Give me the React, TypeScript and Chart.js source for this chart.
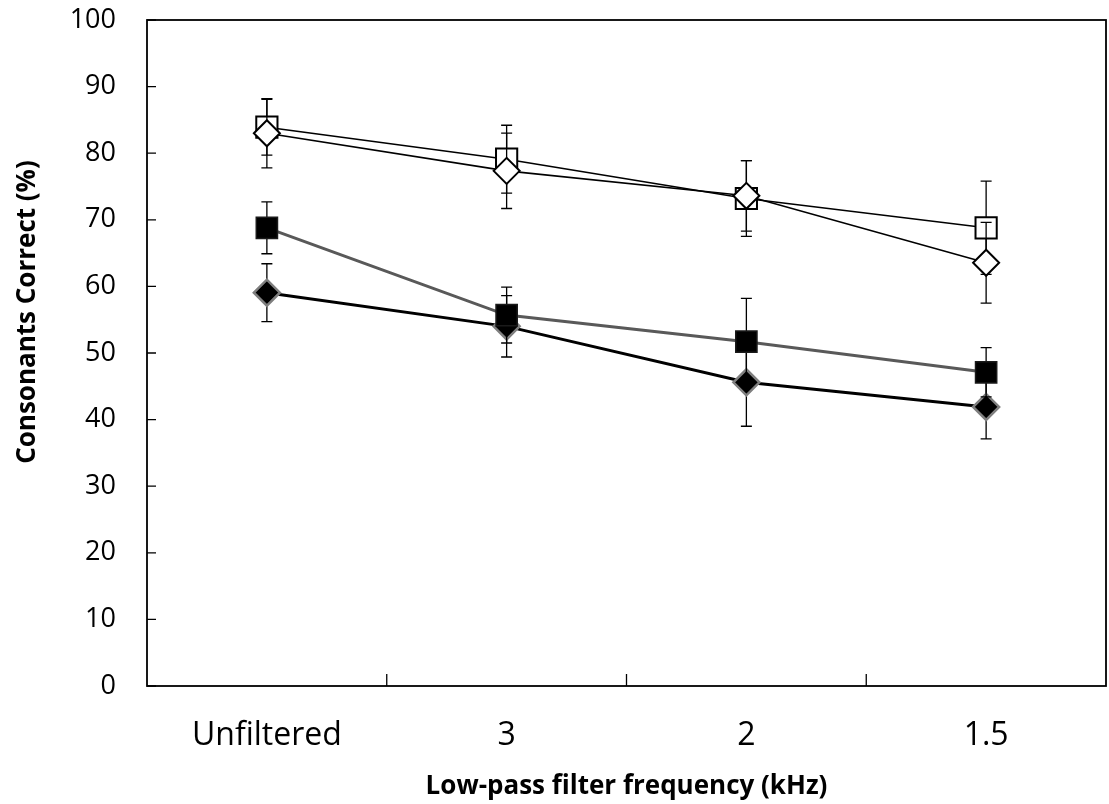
import React, { useEffect, useRef } from "react";
import { Chart, registerables } from "chart.js";

Chart.register(...registerables);

const categories = ["Unfiltered", "3", "2", "1.5"];

const openSquare = [83.9, 79.1, 73.2, 68.8];
const openSquareErr = [4.2, 5.1, 5.7, 7.0];
const openDiamond = [83.0, 77.35, 73.6, 63.55];
const openDiamondErr = [5.2, 5.65, 5.3, 6.05];
const filledSquare = [68.8, 55.7, 51.7, 47.1];
const filledSquareErr = [3.9, 4.2, 6.5, 3.7];
const filledDiamond = [59.05, 54.0, 45.6, 41.9];
const filledDiamondErr = [4.35, 4.6, 6.6, 4.8];

const yMin = 0;
const yMax = 100;
const yStep = 10;

const xTitle = "Low-pass filter frequency (kHz)";
const yTitle = "Consonants Correct (%)";

const FONT = "'Open Sans', 'Noto Sans', sans-serif";

const errorBarPlugin = {
  id: "errorBars",
  beforeDatasetDraw(chart: any, args: any) {
    const ds = chart.data.datasets[args.index];
    const errs: number[] | undefined = ds.errors;
    if (!errs) return;
    const { ctx, scales } = chart;
    const x = scales.x;
    const y = scales.y;
    ctx.save();
    ctx.strokeStyle = "#000";
    ctx.lineWidth = 1.3;
    const cap = 5.5;
    ds.data.forEach((v: number, i: number) => {
      const px = x.getPixelForValue(i);
      const top = y.getPixelForValue(v + errs[i]);
      const bot = y.getPixelForValue(v - errs[i]);
      ctx.beginPath();
      ctx.moveTo(px, top);
      ctx.lineTo(px, bot);
      ctx.moveTo(px - cap, top);
      ctx.lineTo(px + cap, top);
      ctx.moveTo(px - cap, bot);
      ctx.lineTo(px + cap, bot);
      ctx.stroke();
    });
    ctx.restore();
  },
};

const framePlugin = {
  id: "frame",
  beforeDatasetsDraw(chart: any) {
    const { ctx, chartArea, scales } = chart;
    const { left, right, top, bottom } = chartArea;
    ctx.save();
    ctx.strokeStyle = "#000";
    ctx.lineWidth = 1.8;
    ctx.strokeRect(left, top, right - left, bottom - top);
    ctx.lineWidth = 1.3;
    ctx.beginPath();
    scales.y.ticks.forEach((t: any) => {
      const py = scales.y.getPixelForValue(t.value);
      ctx.moveTo(left, py);
      ctx.lineTo(left + 9, py);
    });
    for (let i = 0; i < categories.length - 1; i++) {
      const px = (scales.x.getPixelForValue(i) + scales.x.getPixelForValue(i + 1)) / 2;
      ctx.moveTo(px, bottom);
      ctx.lineTo(px, bottom - 12);
    }
    ctx.stroke();
    ctx.restore();
  },
  afterDraw(chart: any) {
    const { ctx } = chart;
    ctx.save();
    ctx.translate(35, 312);
    ctx.rotate(-Math.PI / 2);
    ctx.fillStyle = "#000";
    ctx.font = `bold 26px ${FONT}`;
    ctx.textAlign = "center";
    ctx.textBaseline = "alphabetic";
    ctx.fillText(yTitle, 0, 0);
    ctx.restore();
  },
};

export default function App() {
  const ref = useRef<HTMLCanvasElement | null>(null);

  useEffect(() => {
    document.body.style.margin = "0";
    const canvas = ref.current;
    if (!canvas) return;
    const chart = new Chart(canvas, {
      type: "line",
      data: {
        labels: categories,
        datasets: [
          {
            label: "Open diamond",
            data: openDiamond,
            errors: openDiamondErr,
            borderColor: "#000",
            borderWidth: 1.6,
            pointStyle: "rectRot",
            pointRadius: 13,
            pointBackgroundColor: "#fff",
            pointBorderColor: "#000",
            pointBorderWidth: 2,
            order: 1,
          } as any,
          {
            label: "Open square",
            data: openSquare,
            errors: openSquareErr,
            borderColor: "#000",
            borderWidth: 1.6,
            pointStyle: "rect",
            pointRadius: 15,
            pointBackgroundColor: "#fff",
            pointBorderColor: "#000",
            pointBorderWidth: 2,
            order: 2,
          } as any,
          {
            label: "Filled square",
            data: filledSquare,
            errors: filledSquareErr,
            borderColor: "#595959",
            borderWidth: 3,
            pointStyle: "rect",
            pointRadius: 15,
            pointBackgroundColor: "#000",
            pointBorderColor: "#1a1a1a",
            pointBorderWidth: 1.5,
            order: 3,
          } as any,
          {
            label: "Filled diamond",
            data: filledDiamond,
            errors: filledDiamondErr,
            borderColor: "#000",
            borderWidth: 3,
            pointStyle: "rectRot",
            pointRadius: 13,
            pointBackgroundColor: "#000",
            pointBorderColor: "#7f7f7f",
            pointBorderWidth: 2.5,
            order: 4,
          } as any,
        ],
      },
      options: {
        responsive: false,
        animation: false,
        devicePixelRatio: 1,
        layout: { autoPadding: false, padding: { left: 0, top: 20, right: 3, bottom: 0 } },
        plugins: {
          legend: { display: false },
          tooltip: { enabled: false },
        },
        elements: { line: { tension: 0 } },
        scales: {
          x: {
            type: "category",
            offset: true,
            grid: { display: false, drawTicks: false },
            border: { display: false },
            ticks: {
              color: "#000",
              padding: 31,
              font: { family: FONT, size: 32 },
              maxRotation: 0,
            },
            title: {
              display: true,
              text: xTitle,
              color: "#000",
              font: { family: FONT, size: 26, weight: "bold" },
              padding: { top: 0, bottom: 2 },
            },
            afterFit: (s: any) => {
              s.height = 118;
              s.paddingLeft = 0;
              s.paddingRight = 0;
            },
          },
          y: {
            min: yMin,
            max: yMax,
            grid: { display: false, drawTicks: false },
            border: { display: false },
            ticks: {
              stepSize: yStep,
              color: "#000",
              padding: 31,
              font: { family: FONT, size: 27 },
            },
            title: { display: false, text: yTitle },
            afterFit: (s: any) => {
              s.width = 147;
              s.paddingTop = 0;
              s.paddingBottom = 0;
            },
          },
        },
      } as any,
      plugins: [framePlugin, errorBarPlugin],
    });
    return () => chart.destroy();
  }, []);

  return (
    <div style={{ width: 1109, height: 804 }}>
      <canvas ref={ref} width={1109} height={804} />
    </div>
  );
}
